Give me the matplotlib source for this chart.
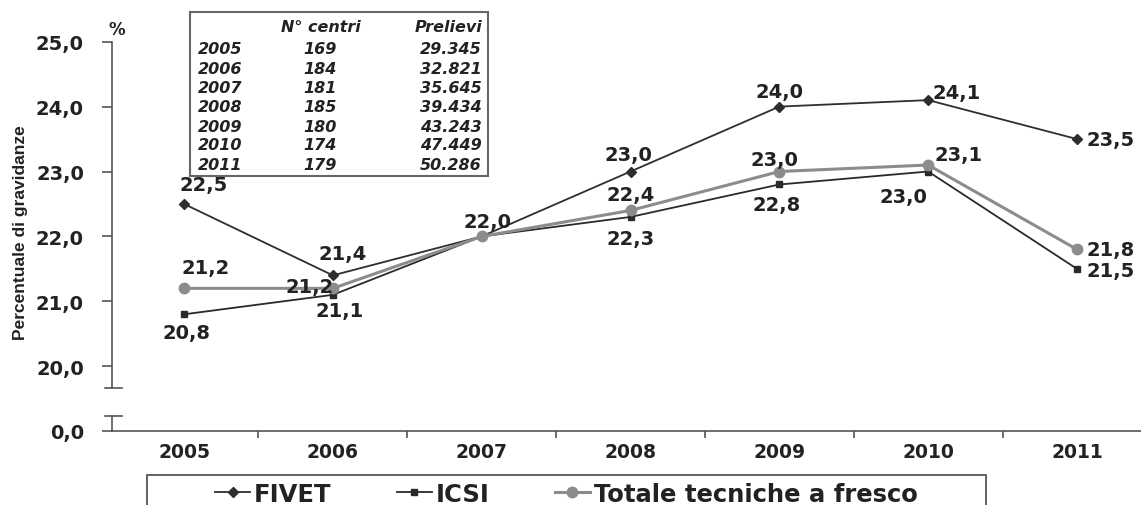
import matplotlib.pyplot as plt
from matplotlib.patches import Rectangle

# data
years = ['2005', '2006', '2007', '2008', '2009', '2010', '2011']
fivet = [22.5, 21.4, 22.0, 23.0, 24.0, 24.1, 23.5]
icsi = [20.8, 21.1, 22.0, 22.3, 22.8, 23.0, 21.5]
totale = [21.2, 21.2, 22.0, 22.4, 23.0, 23.1, 21.8]

# inset table
n_centri = ['169', '184', '181', '185', '180', '174', '179']
prelievi = ['29.345', '32.821', '35.645', '39.434', '43.243', '47.449', '50.286']

W, H = 1141, 506


def fx(px):
    return px / W


def fy(py):
    return 1 - py / H


def lab(v):
    return f"{v:.1f}".replace('.', ',')


plt.rcParams['font.family'] = 'DejaVu Sans'
fig = plt.figure(figsize=(W / 100, H / 100), dpi=100)

left, right = 111.7, 1141
ax = fig.add_axes([fx(left), fy(389.3), fx(right - left), (389.3 - 42.7) / H])
axb = fig.add_axes([fx(left), fy(431.7), fx(right - left), (431.7 - 417.3) / H])

x = list(range(len(years)))
l1, = ax.plot(x, fivet, color='#2e2e2e', lw=1.3, marker='D', ms=5, label='FIVET')
l2, = ax.plot(x, icsi, color='#2a2a2a', lw=1.3, marker='s', ms=5, label='ICSI')
l3, = ax.plot(x, totale, color='#8c8c8c', lw=2.2, marker='o', ms=7.5,
              label='Totale tecniche a fresco')

# data labels (offsets in pixels, screen y downwards)
fivet_off = [(20, -19), (10, -22), (6, -15), (-2, -17), (0, -15), (28, -8), (34, 0)]
icsi_off = [(2, 18), (7, 16), None, (0, 22), (-3, 20), (-25, 25), (34, 2)]
totale_off = [(22, -21), (-23, -2), None, (0, -16), (-5, -12), (30, -11), (34, 0)]
for vals, offs in [(fivet, fivet_off), (icsi, icsi_off), (totale, totale_off)]:
    for i, (v, o) in enumerate(zip(vals, offs)):
        if o is None:
            continue
        ax.annotate(lab(v), (i, v), xytext=(o[0], -o[1]), textcoords='offset pixels',
                    ha='center', va='center', fontsize=14, fontweight='bold', color='#222222')

xl = (-0.486, 6.43)
ax.set_xlim(*xl)
ax.set_ylim(19.66, 25.0)
ax.set_yticks([20, 21, 22, 23, 24, 25])
ax.set_yticklabels([lab(v) for v in [20, 21, 22, 23, 24, 25]])
ax.set_xticks([])
for s in ['top', 'right', 'bottom']:
    ax.spines[s].set_visible(False)
ax.spines['left'].set_color('#555555')
ax.spines['left'].set_linewidth(1.2)
ax.tick_params(axis='y', length=7, width=1.2, color='#555555', pad=13,
               labelsize=14, labelcolor='#222222')
for t in ax.get_yticklabels():
    t.set_fontweight('bold')
ax.patch.set_visible(False)

axb.set_xlim(*xl)
axb.set_ylim(0, 1)
axb.set_yticks([0])
axb.set_yticklabels(['0,0'])
axb.set_xticks(x)
axb.set_xticklabels(years)
axb.set_xticks([i + 0.5 for i in range(6)], minor=True)
for s in ['top', 'right']:
    axb.spines[s].set_visible(False)
for s in ['left', 'bottom']:
    axb.spines[s].set_color('#555555')
    axb.spines[s].set_linewidth(1.2)
axb.tick_params(axis='y', length=7, width=1.2, color='#555555', pad=13,
                labelsize=14, labelcolor='#222222')
axb.tick_params(axis='x', which='major', length=0, pad=8, labelsize=13.5, labelcolor='#222222')
axb.tick_params(axis='x', which='minor', length=5, width=1.2, color='#555555')
for t in axb.get_yticklabels() + axb.get_xticklabels():
    t.set_fontweight('bold')
axb.patch.set_visible(False)

# axis break marks
bx = [(105 - left) / (right - left), (122 - left) / (right - left)]
ax.plot(bx, [0, 0], transform=ax.transAxes, clip_on=False, color='#555555', lw=1.2)
axb.plot(bx, [1, 1], transform=axb.transAxes, clip_on=False, color='#555555', lw=1.2)

fig.text(fx(21), fy(233), 'Percentuale di gravidanze', rotation=90, ha='center', va='center',
         family='Liberation Sans', fontsize=12.5, fontweight='bold', color='#222222')
fig.text(fx(117), fy(30), '%', ha='center', va='center', fontsize=12, fontweight='bold',
         color='#222222')

# inset table
fig.add_artist(Rectangle((fx(190), fy(177)), fx(298), 164 / H, transform=fig.transFigure,
                         fill=False, ec='#666666', lw=1.5))
tkw = dict(fontsize=11.5, fontweight='bold', fontstyle='italic', color='#222222', va='center')
fig.text(fx(321), fy(27), 'N° centri', ha='center', **tkw)
fig.text(fx(482), fy(27), 'Prelievi', ha='right', **tkw)
row_y = [50, 69.5, 88.5, 107.5, 127, 146, 165]
for yr, c, p, ry in zip(years, n_centri, prelievi, row_y):
    fig.text(fx(198), fy(ry), yr, ha='left', **tkw)
    fig.text(fx(320), fy(ry), c, ha='center', **tkw)
    fig.text(fx(482), fy(ry), p, ha='right', **tkw)

# legend
fig.legend([l1, l2, l3], [l.get_label() for l in (l1, l2, l3)], loc='center left',
           bbox_to_anchor=(fx(215), fy(495)), ncol=3, frameon=False,
           prop=dict(weight='bold', size=17.5), handlelength=1.44, handletextpad=0.15,
           columnspacing=2.7, borderpad=0, borderaxespad=0, labelcolor='#222222')
fig.add_artist(Rectangle((fx(147), fy(530)), fx(986 - 147), (530 - 476) / H,
                         transform=fig.transFigure, fill=False, ec='#555555', lw=1.3))

fig.savefig('out.png', dpi=100)
